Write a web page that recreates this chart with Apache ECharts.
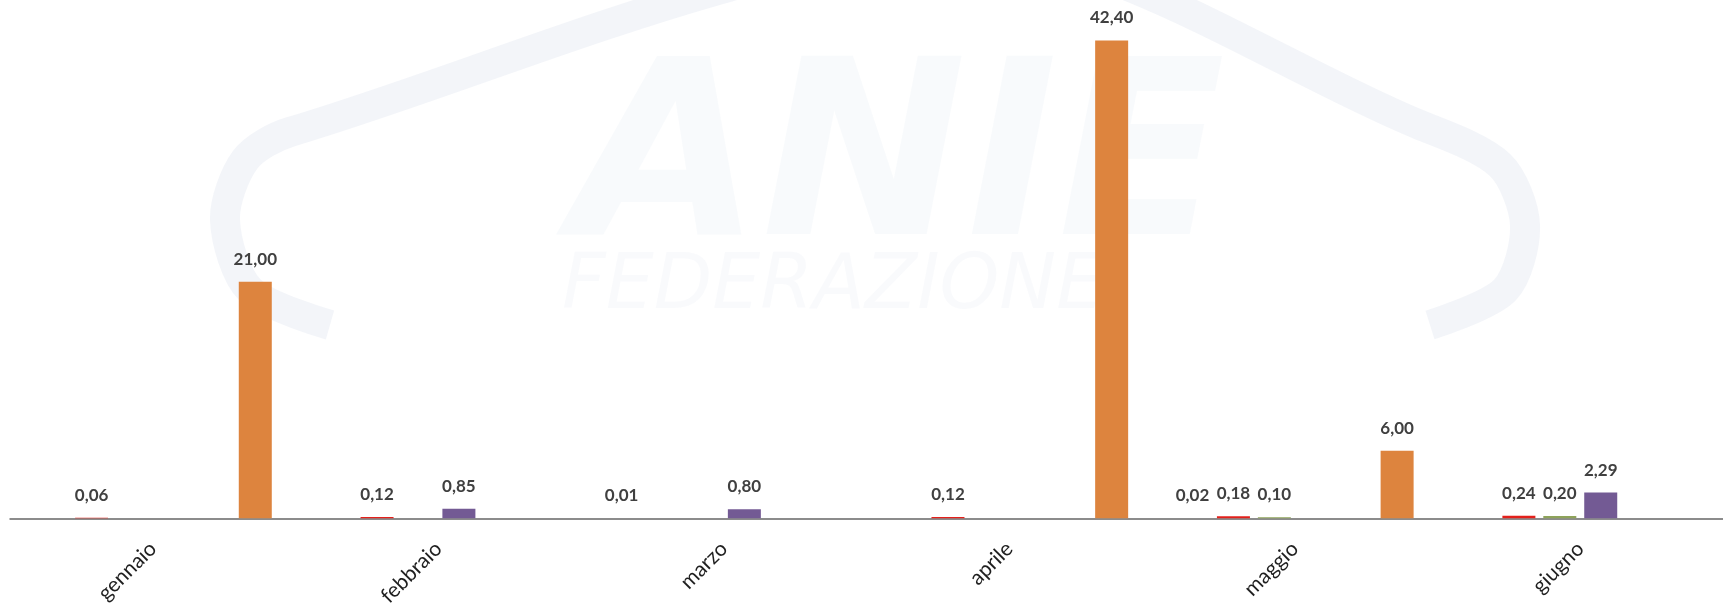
<!DOCTYPE html>
<html>
<head>
<meta charset="utf-8">
<script src="https://cdn.jsdelivr.net/npm/echarts@6/dist/echarts.min.js"></script>
<style>
html,body{margin:0;padding:0;background:#fff;}
#chart{width:1723px;height:609px;}
</style>
</head>
<body>
<div id="chart"></div>
<script>
const categories = ['gennaio', 'febbraio', 'marzo', 'aprile', 'maggio', 'giugno'];
const serie1 = [null, null, 0.01, null, 0.02, null];
const serie2 = [0.06, 0.12, null, 0.12, 0.18, 0.24];
const serie3 = [null, null, null, null, 0.10, 0.20];
const serie4 = [null, 0.85, 0.80, null, null, 2.29];
const serie5 = [null, null, null, null, null, null];
const serie6 = [21.00, null, null, 42.40, 6.00, null];

const seriesNames = ['Serie 1', 'Serie 2', 'Serie 3', 'Serie 4', 'Serie 5', 'Serie 6'];
const seriesData = [serie1, serie2, serie3, serie4, serie5, serie6];
const colors = ['#4f81bd', '#e3201b', '#8ea35a', '#735a94', '#4bacc6', '#dd843e'];

const chart = echarts.init(document.getElementById('chart'));

const series = seriesData.map((d, i) => ({
  name: seriesNames[i],
  type: 'bar',
  data: d,
  barWidth: 33,
  barGap: '24%',
  itemStyle: { color: colors[i] },
  label: {
    show: true,
    position: 'top',
    distance: 14,
    fontFamily: 'Lato',
    fontWeight: 'bold',
    fontSize: 17,
    lineHeight: 17,
    color: '#404040',
    formatter: p => (p.value == null ? '' : Number(p.value).toFixed(2).replace('.', ','))
  }
}));

chart.setOption({
  animation: false,
  backgroundColor: '#ffffff',
  graphic: [
    {
      type: 'polyline',
      silent: true,
      z: -10,
      shape: {
        smooth: 0.3,
        points: [[330, 325], [250, 290], [225, 220], [245, 160], [290, 132], [964, -53], [1420, 125], [1500, 165], [1525, 225], [1505, 290], [1430, 325]]
      },
      style: { fill: 'none', stroke: 'rgba(225,230,241,0.4)', lineWidth: 30 }
    },
    {
      type: 'text',
      silent: true,
      z: -9,
      left: 572,
      top: 48,
      style: {
        text: 'ANIE',
        font: 'italic bold 245px "DejaVu Sans"',
        fill: 'rgba(225,230,241,0.22)'
      }
    },
    {
      type: 'text',
      silent: true,
      z: -9,
      left: 562,
      top: 250,
      style: {
        text: 'FEDERAZIONE',
        font: 'italic 76px "DejaVu Sans"',
        fill: 'rgba(225,230,241,0.2)'
      }
    }
  ],
  grid: { left: 10.25, right: -12.25, top: 11.2, bottom: 88, containLabel: false },
  xAxis: {
    type: 'category',
    data: categories,
    axisTick: { show: false },
    axisLine: { lineStyle: { color: '#8c8c8c', width: 2 } },
    axisLabel: {
      interval: 0,
      rotate: 45,
      margin: 27,
      fontFamily: 'Lato',
      fontSize: 21,
      color: '#1f1f1f'
    },
    splitLine: { show: false }
  },
  yAxis: {
    type: 'value',
    min: 0,
    max: 45,
    show: false,
    splitLine: { show: false }
  },
  series: series
});
</script>
</body>
</html>
